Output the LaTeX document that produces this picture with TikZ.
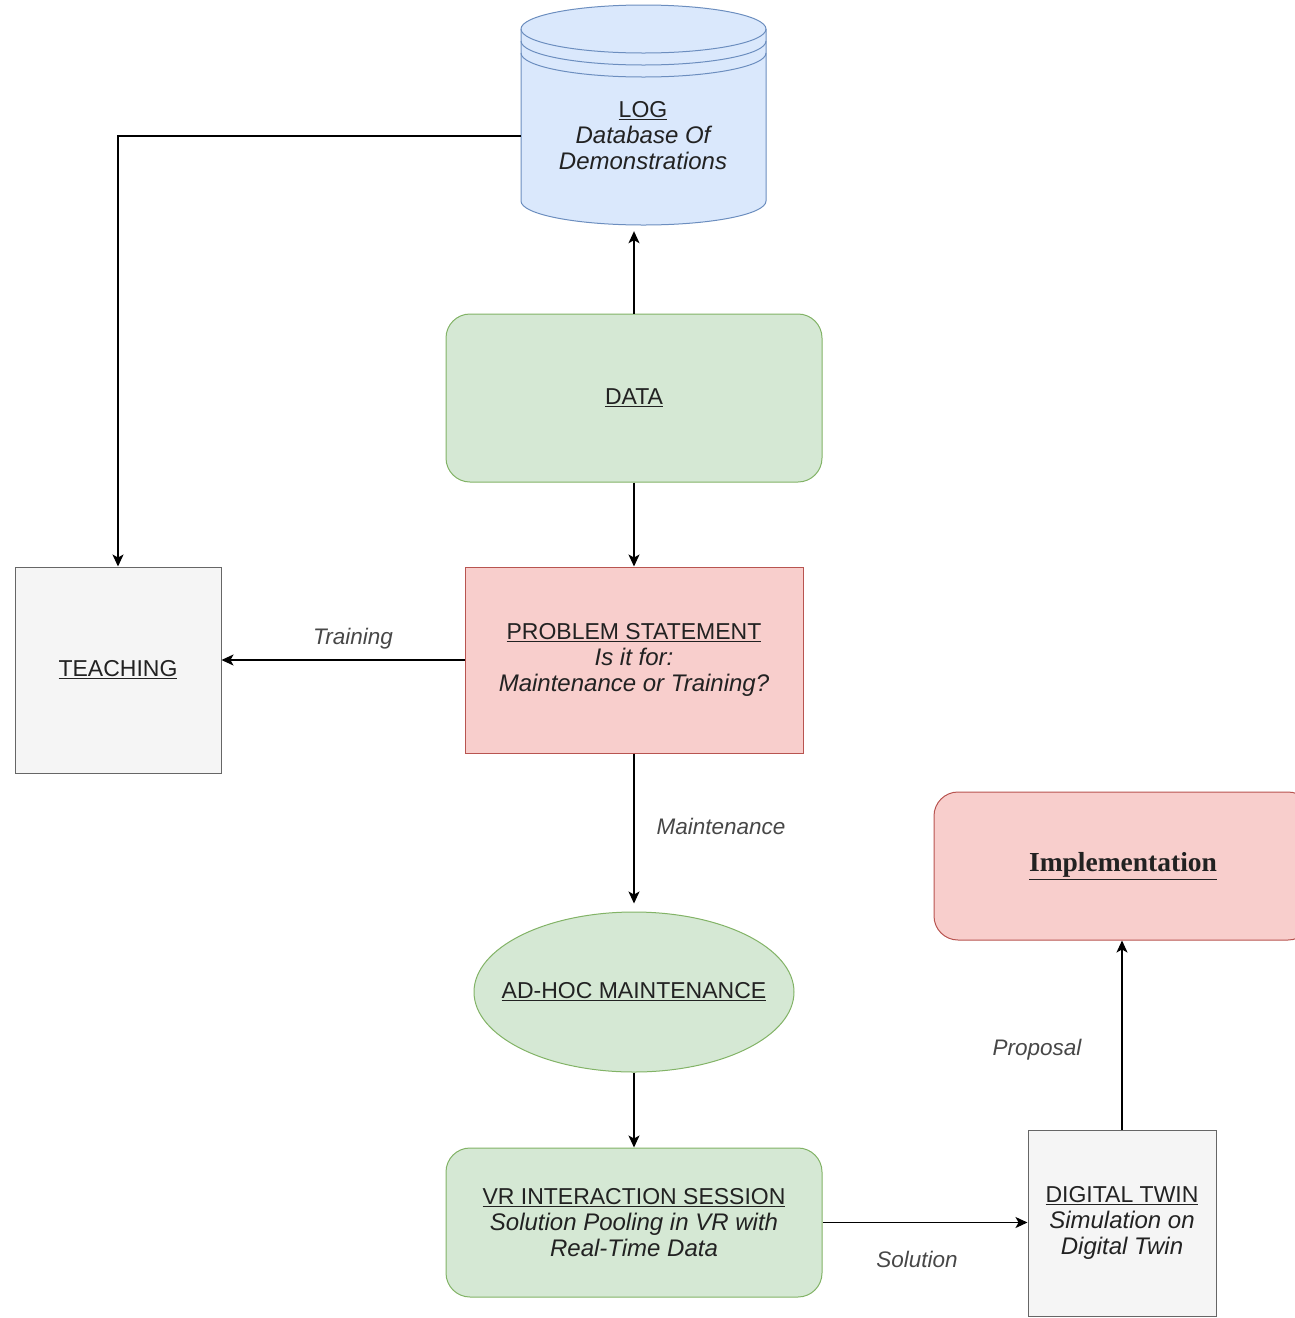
\documentclass[tikz,border=0pt]{standalone}
\usepackage{fontspec}
\setmainfont{Liberation Sans}
\newfontfamily\implfont{Liberation Serif}
\usetikzlibrary{shapes.geometric,arrows.meta}
\definecolor{bluefill}{HTML}{DAE8FC}
\definecolor{blueline}{HTML}{6C8EBF}
\definecolor{greenfill}{HTML}{D5E8D4}
\definecolor{greenline}{HTML}{82B366}
\definecolor{redfill}{HTML}{F8CECC}
\definecolor{redline}{HTML}{B85450}
\definecolor{grayfill}{HTML}{F5F5F5}
\definecolor{grayline}{HTML}{666666}
\definecolor{txt}{HTML}{222222}
\newcommand{\itl}{\fontsize{24}{26}\selectfont\itshape}
\begin{document}
\begin{tikzpicture}[x=1pt,y=-1pt,
  every node/.style={text=txt, font=\fontsize{23}{26}\selectfont, align=center, inner sep=0pt},
  greenround/.style={draw=greenline, fill=greenfill, line width=1pt, rounded corners=24pt},
  redbox/.style={draw=redline, fill=redfill, line width=1pt},
  graybox/.style={draw=grayline, fill=grayfill, line width=1pt},
  conn/.style={draw=black, line width=1.3pt, -{Stealth[length=12pt,width=11pt,inset=3pt]}},
  lbl/.style={text=black!72, font=\fontsize{22.5}{26}\selectfont\itshape},
]
\useasboundingbox (0,0) rectangle (1294,1318);

% LOG cylinder
\filldraw[fill=bluefill, draw=blueline, line width=1pt]
  (521,29) -- (521,201) arc (180:0:122.5 and 24) -- (766,29) arc (0:-180:122.5 and 24) -- cycle;
\draw[blueline, line width=1pt] (521,29) arc (180:0:122.5 and 24);
\draw[blueline, line width=1pt] (521,41) arc (180:0:122.5 and 24);
\draw[blueline, line width=1pt] (521,53) arc (180:0:122.5 and 24);
\node[minimum width=245pt, minimum height=220pt] (log) at (643.5,115) {};
\node (logtext) at (643,136) {\underline{LOG}\\\itl Database Of\\\itl Demonstrations};

% DATA
\node[greenround, minimum width=376pt, minimum height=168pt] (data) at (634,398) {\underline{DATA}};

% PROBLEM STATEMENT
\node[redbox, minimum width=338pt, minimum height=186pt] (prob) at (634,660)
  {\underline{PROBLEM STATEMENT}\\\itl Is it for:\\\itl Maintenance or Training?};

% TEACHING
\node[graybox, minimum width=206pt, minimum height=206pt] (teach) at (118,670) {\underline{TEACHING}};

% AD-HOC MAINTENANCE
\node[ellipse, draw=greenline, fill=greenfill, line width=1pt, minimum width=320pt, minimum height=160pt] (adhoc) at (634,992) {};
\node (adhoctext) at (adhoc.center) {\underline{AD-HOC MAINTENANCE}};

% VR INTERACTION SESSION
\node[greenround, minimum width=376pt, minimum height=149pt] (vr) at (634,1222.5)
  {\underline{VR INTERACTION SESSION}\\\itl Solution Pooling in VR with\\\itl Real-Time Data};

% DIGITAL TWIN
\node[graybox, minimum width=188pt, minimum height=186pt] (dt) at (1122,1223)
  {\underline{DIGITAL TWIN}\\\itl Simulation on\\\itl Digital Twin};

% Implementation
\node[redbox, rounded corners=24pt, minimum width=378pt, minimum height=148pt] (impl) at (1123,866)
  {\implfont\bfseries\fontsize{27.5}{30}\selectfont\underline{Implementation}};

% connectors
\draw[conn] ([yshift=-21pt]log.west) -| (teach.north);
\draw[conn, shorten >=6pt] (data.north) -- (data.north |- log.south);
\draw[conn] (data.south) -- (prob.north);
\draw[conn] (prob.west) -- node[lbl, above=10pt, xshift=10pt] {Training} (prob.west -| teach.east);
\draw[conn, shorten >=8pt] (prob.south) -- node[lbl, right=22pt, pos=0.46, xshift=0pt] {Maintenance} (adhoc.north);
\draw[conn] (adhoc.south) -- (vr.north);
\draw[conn] (vr.east) -- node[lbl, below=28pt, xshift=-8pt] {Solution} (vr.east -| dt.west);
\draw[conn] (dt.north) -- node[lbl, left=40pt, pos=0.42] {Proposal} (dt.north |- impl.south);
\end{tikzpicture}
\end{document}
